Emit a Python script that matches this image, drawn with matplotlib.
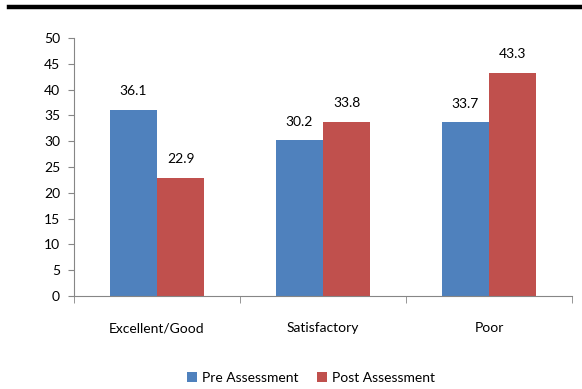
import matplotlib
matplotlib.use("Agg")
import matplotlib.pyplot as plt
from matplotlib.lines import Line2D
import numpy as np

categories = ["Excellent/Good", "Satisfactory", "Poor"]
pre_values = [36.1, 30.2, 33.7]
post_values = [22.9, 33.8, 43.3]
series_names = ["Pre Assessment", "Post Assessment"]
y_ticks = [0, 5, 10, 15, 20, 25, 30, 35, 40, 45, 50]

plt.rcParams['font.family'] = ['Lato', 'DejaVu Sans']

fig = plt.figure(figsize=(5.82, 3.89), dpi=100)
ax = fig.add_axes([74/582, 1 - 296/389, (572 - 74)/582, (296 - 38)/389])

blue = "#4F81BD"
red = "#C0504D"
x = np.arange(len(categories))
w = 0.284
b1 = ax.bar(x - w/2, pre_values, w, color=blue, label=series_names[0])
b2 = ax.bar(x + w/2, post_values, w, color=red, label=series_names[1])

fs = 10
for bars, vals in ((b1, pre_values), (b2, post_values)):
    for rect, v in zip(bars, vals):
        ax.annotate(f"{v:.1f}", (rect.get_x() + rect.get_width()/2, v),
                    xytext=(0, 9), textcoords="offset points",
                    ha="center", va="bottom", fontsize=fs, color="black")

ax.set_xlim(-0.5, 2.5)
ax.set_ylim(0, 50)
ax.set_yticks(y_ticks)
ax.tick_params(axis='y', length=4, color="#868686", labelsize=fs, pad=6)
ax.set_xticks(x)
ax.set_xticklabels(categories)
ax.tick_params(axis='x', length=0, labelsize=fs, pad=19)
ax.set_xticks([-0.5, 0.5, 1.5, 2.5], minor=True)
ax.tick_params(axis='x', which='minor', length=5, color="#868686")

for s in ("top", "right"):
    ax.spines[s].set_visible(False)
for s in ("left", "bottom"):
    ax.spines[s].set_color("#868686")
    ax.spines[s].set_linewidth(0.8)

fig.add_artist(Line2D([9/582, 1], [1 - 7/389, 1 - 7/389], color="black",
                      linewidth=3.2, transform=fig.transFigure))

fig.legend(handles=[b1, b2], labels=series_names, loc="center",
           bbox_to_anchor=(311/582, 1 - 378/389), ncol=2, frameon=False,
           fontsize=fs, handlelength=0.75, handleheight=0.75,
           handletextpad=0.35, columnspacing=1.3)

fig.savefig("out.png", dpi=100)
